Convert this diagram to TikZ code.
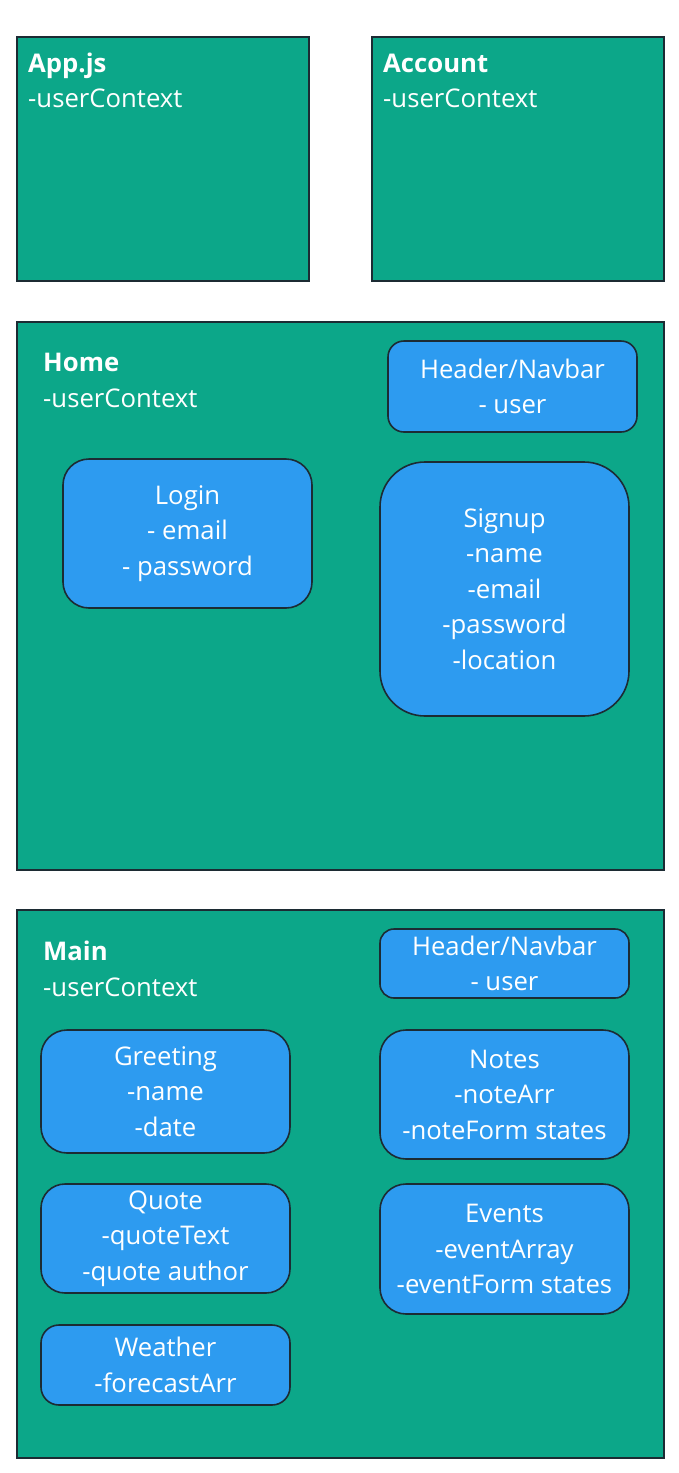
\documentclass[tikz,border=0pt]{standalone}
\usepackage{fontspec}
\setmainfont{Open Sans}
\definecolor{teal1}{HTML}{0CA789}
\definecolor{blue1}{HTML}{2D9BF0}
\definecolor{edge1}{HTML}{1C2B33}
\tikzset{
  container/.style={draw=edge1, line width=1.6pt, fill=teal1, rectangle, anchor=north west, inner sep=0pt},
  comp/.style={draw=edge1, line width=1.6pt, fill=blue1, rectangle, inner sep=0pt, text=white, align=center,
    font=\fontsize{25.7}{35.5}\selectfont},
  ttl/.style={anchor=base west, inner sep=0pt, text=white, font=\fontsize{25.7}{35.5}\selectfont\bfseries},
  sub/.style={anchor=base west, inner sep=0pt, text=white, font=\fontsize{25.7}{35.5}\selectfont},
}
\begin{document}
\begin{tikzpicture}[x=1pt,y=-1pt]
\useasboundingbox[fill=white] (0,0) rectangle (678,1473);
% containers
\node[container, minimum width=292pt, minimum height=244pt] (app) at (16,36) {};
\node[container, minimum width=292pt, minimum height=244pt] (account) at (371,36) {};
\node[container, minimum width=647pt, minimum height=548pt] (home) at (16,321) {};
\node[container, minimum width=647pt, minimum height=548pt] (main) at (16,909) {};
% titles
\node[ttl] (appT) at (28,72) {App.js};
\node[sub] (appS) at (28,107) {-userContext};
\node[ttl] (accT) at (383,72) {Account};
\node[sub] (accS) at (383,107) {-userContext};
\node[ttl] (homeT) at (43,371) {Home};
\node[sub] (homeS) at (43,407) {-userContext};
\node[ttl] (mainT) at (43,960) {Main};
\node[sub] (mainS) at (43,996) {-userContext};
% home components
\node[comp, rounded corners=16pt, minimum width=249pt, minimum height=91pt] (hnav) at (512.5,386.5) {Header/Navbar\\- user};
\node[comp, rounded corners=26pt, minimum width=249pt, minimum height=149pt] (login) at (187.5,533.5) {Login\\- email\\- password};
\node[comp, rounded corners=45pt, minimum width=249pt, minimum height=254pt] (signup) at (504.5,589) {Signup\\-name\\-email\\-password\\-location};
% main components
\node[comp, rounded corners=14pt, minimum width=249pt, minimum height=69pt] (mnav) at (504.5,963.5) {Header/Navbar\\- user};
\node[comp, rounded corners=26pt, minimum width=249pt, minimum height=123pt] (greet) at (165.5,1091.5) {Greeting\\-name\\-date};
\node[comp, rounded corners=26pt, minimum width=249pt, minimum height=129pt] (notes) at (504.5,1094.5) {Notes\\-noteArr\\-noteForm states};
\node[comp, rounded corners=24pt, minimum width=249pt, minimum height=109pt] (quote) at (165.5,1238.5) {Quote\\-quoteText\\-quote author};
\node[comp, rounded corners=26pt, minimum width=249pt, minimum height=130pt] (events) at (504.5,1249) {Events\\-eventArray\\-eventForm states};
\node[comp, rounded corners=18pt, minimum width=249pt, minimum height=80pt] (weather) at (165.5,1365) {Weather\\-forecastArr};
\end{tikzpicture}
\end{document}
